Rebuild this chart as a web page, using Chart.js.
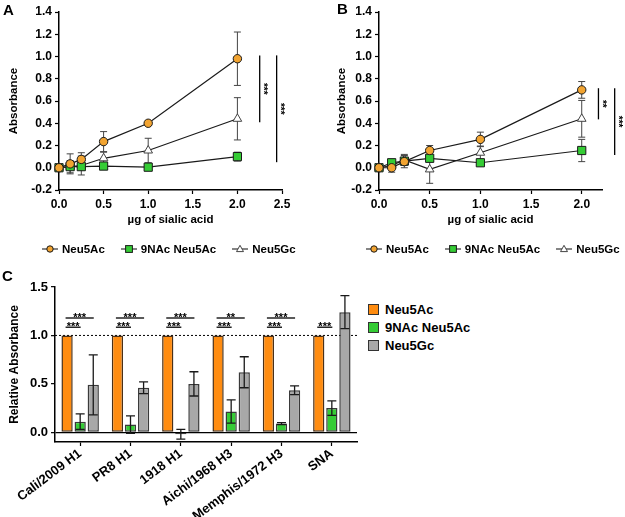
<!DOCTYPE html>
<html lang="en">
<head>
<meta charset="UTF-8">
<title>Sialic acid binding</title>
<script src="https://cdn.jsdelivr.net/npm/chart.js"></script>
<style>
    body { margin: 0; background: #fff; font-family: 'Liberation Sans', Arial, sans-serif; color: #000; }
    #page { position: relative; width: 625px; height: 517px; overflow: hidden; }
    canvas { position: absolute; }
    .letter { position: absolute; font-size: 15px; font-weight: bold; line-height: 15px; }
    .legend { position: absolute; display: flex; align-items: center; font-size: 11.5px; font-weight: bold; line-height: 14px; white-space: nowrap; }
    .legend .item { display: flex; align-items: center; margin-right: 16px; }
    .legend svg { margin-right: 4px; }
    .boxlegend { position: absolute; left: 368px; top: 300px; font-size: 13px; font-weight: bold; white-space: nowrap; }
    .boxlegend .item { display: flex; align-items: center; height: 18.3px; }
    .boxlegend .sw { width: 9px; height: 9px; border: 1.5px solid #333; margin-right: 6px; }
</style>
</head>
<body>
<div id="page">
    <canvas id="chartA" width="300" height="235" style="left:0;top:0"></canvas>
    <canvas id="chartB" width="297" height="235" style="left:328px;top:0"></canvas>
    <canvas id="chartC" width="367" height="262" style="left:0;top:255px"></canvas>

    <div class="letter" style="left:3px;top:2px">A</div>
    <div class="letter" style="left:337px;top:1px">B</div>
    <div class="letter" style="left:2px;top:268px">C</div>

    <div class="legend" id="legendA" style="left:42px;top:242px"></div>
    <div class="legend" id="legendB" style="left:366px;top:242px"></div>
    <div class="boxlegend" id="legendC"></div>
</div>

<script>
    const FONT = "'Liberation Sans', Arial, sans-serif";

    // dose of sialic acid (µg), shared by panels A and B
    const doses = [0, 0.125, 0.25, 0.5, 1.0, 2.0];

    // panel A
    const aNeu5Ac = [0, 0.035, 0.075, 0.235, 0.40, 0.98];
    const aNeu5AcErr = [0, 0.09, 0.06, 0.09, 0, 0.24];
    const a9NAc = [0, 0.01, 0.01, 0.015, 0.005, 0.10];
    const a9NAcErr = [0, 0.01, 0.01, 0.01, 0.01, 0.04];
    const aNeu5Gc = [0, 0.01, 0.02, 0.085, 0.155, 0.44];
    const aNeu5GcErr = [0, 0.055, 0.085, 0.055, 0.11, 0.19];
    const aSigX = [2.25, 2.44];
    const aSigTop = [1.01, 1.01];
    const aSigBottom = [0.41, 0.05];
    const aSigLabel = ['***', '***'];

    // panel B
    const bNeu5Ac = [0, 0.0, 0.055, 0.155, 0.255, 0.70];
    const bNeu5AcErr = [0, 0.04, 0.055, 0.045, 0.065, 0.075];
    const b9NAc = [0, 0.045, 0.06, 0.085, 0.045, 0.155];
    const b9NAcErr = [0, 0.01, 0.01, 0.03, 0.01, 0.10];
    const bNeu5Gc = [0, 0.02, 0.07, -0.015, 0.135, 0.44];
    const bNeu5GcErr = [0, 0.02, 0.05, 0.125, 0.06, 0.165];
    const bSigX = [2.165, 2.325];
    const bSigTop = [0.715, 0.715];
    const bSigBottom = [0.435, 0.115];
    const bSigLabel = ['**', '***'];

    // panel C
    const strains = ['Cali/2009 H1', 'PR8 H1', '1918 H1', 'Aichi/1968 H3', 'Memphis/1972 H3', 'SNA'];
    const relNeu5Ac = [1, 1, 1, 1, 1, 1];
    const rel9NAc = [0.11, 0.08, -0.02, 0.215, 0.09, 0.25];
    const rel9NAcErr = [0.08, 0.09, 0.05, 0.12, 0.01, 0.075];
    const relNeu5Gc = [0.49, 0.46, 0.50, 0.62, 0.435, 1.24];
    const relNeu5GcErr = [0.31, 0.06, 0.125, 0.16, 0.045, 0.17];
    const sigGreen = ['***', '***', '***', '***', '***', '***'];
    const sigGray = ['***', '***', '***', '**', '***', null];
    const sigGreenLevel = 1.085;
    const sigGrayLevel = 1.18;
    const refLevel = 1.0;

    const seriesNames = ['Neu5Ac', '9NAc Neu5Ac', 'Neu5Gc'];
    const orangeMark = '#f2a431';
    const orangeBar = '#ff8c10';
    const green = '#35cc35';
    const gray = '#a8a8a8';

    Chart.defaults.font.family = FONT;
    Chart.defaults.color = '#000';

    function drawErrorBars(chart, opts) {
        const {ctx} = chart;
        const y = chart.scales.y;
        ctx.save();
        ctx.strokeStyle = opts.color;
        ctx.lineWidth = opts.width;
        chart.data.datasets.forEach((ds, di) => {
            if (!ds.errors) return;
            const meta = chart.getDatasetMeta(di);
            meta.data.forEach((el, i) => {
                const e = ds.errors[i];
                if (!e) return;
                const v = typeof ds.data[i] === 'object' ? ds.data[i].y : ds.data[i];
                const top = y.getPixelForValue(v + e);
                const bot = y.getPixelForValue(v - e);
                const x = el.x;
                ctx.beginPath();
                ctx.moveTo(x, top); ctx.lineTo(x, bot);
                ctx.moveTo(x - opts.cap, top); ctx.lineTo(x + opts.cap, top);
                ctx.moveTo(x - opts.cap, bot); ctx.lineTo(x + opts.cap, bot);
                ctx.stroke();
            });
        });
        ctx.restore();
    }

    const errorBarPlugin = {
        id: 'errBars',
        beforeDatasetsDraw(chart, args, opts) { if (!opts.onTop) drawErrorBars(chart, opts); },
        afterDatasetsDraw(chart, args, opts) { if (opts.onTop) drawErrorBars(chart, opts); }
    };

    // vertical significance brackets to the right of panels A and B
    const vSigPlugin = {
        id: 'vSig',
        afterDraw(chart, args, opts) {
            const {ctx} = chart;
            const {x, y} = chart.scales;
            ctx.save();
            ctx.strokeStyle = '#000';
            ctx.fillStyle = '#000';
            ctx.lineWidth = 1.3;
            ctx.font = 'bold 10px ' + FONT;
            ctx.textAlign = 'center';
            ctx.textBaseline = 'middle';
            opts.xs.forEach((xv, i) => {
                const px = x.getPixelForValue(xv);
                const y1 = y.getPixelForValue(opts.tops[i]);
                const y2 = y.getPixelForValue(opts.bottoms[i]);
                ctx.beginPath();
                ctx.moveTo(px, y1); ctx.lineTo(px, y2);
                ctx.stroke();
                ctx.save();
                ctx.translate(px + 3.5, (y1 + y2) / 2);
                ctx.rotate(Math.PI / 2);
                ctx.fillText(opts.labels[i], 0, 0);
                ctx.restore();
            });
            ctx.restore();
        }
    };

    function lineSeries(label, ys, errs, pointStyle, fill, radius, edge) {
        return {
            label,
            data: doses.map((d, i) => ({x: d, y: ys[i]})),
            errors: errs,
            borderColor: '#1a1a1a',
            borderWidth: 1.2,
            pointStyle,
            pointRadius: radius,
            pointBackgroundColor: fill,
            pointBorderColor: edge,
            pointBorderWidth: 1,
            clip: false,
            tension: 0
        };
    }

    function tickLabel(v) {
        return Math.abs(v) < 1e-9 ? '0.0' : Number(v).toFixed(1);
    }

    function makeLineChart(id, xMax, sets, sig) {
        return new Chart(document.getElementById(id), {
            type: 'line',
            data: {datasets: sets},
            options: {
                responsive: false,
                animation: false,
                layout: {padding: {top: 12, right: id === 'chartA' ? 18 : 23, left: 0, bottom: 0}},
                plugins: {
                    legend: {display: false},
                    tooltip: {enabled: false},
                    errBars: {color: '#444', width: 1, cap: 3.5, onTop: false},
                    vSig: sig
                },
                scales: {
                    x: {
                        type: 'linear',
                        min: 0,
                        max: xMax,
                        ticks: {stepSize: 0.5, includeBounds: false, padding: 3, color: '#000',
                                font: {size: 12, weight: 'bold'}, callback: tickLabel},
                        grid: {drawOnChartArea: false, tickLength: 4, tickColor: '#000', tickWidth: 1.2},
                        border: {color: '#000', width: 1.5},
                        title: {display: true, text: 'µg of sialic acid', color: '#000',
                                font: {size: 11.5, weight: 'bold'}, padding: {top: 0, bottom: 8}},
                        afterFit(s) { s.height = 45; }
                    },
                    y: {
                        min: -0.2,
                        max: 1.4,
                        ticks: {stepSize: 0.2, padding: 3, color: '#000',
                                font: {size: 12, weight: 'bold'}, callback: tickLabel},
                        grid: {drawOnChartArea: false, tickLength: 4, tickColor: '#000', tickWidth: 1.2},
                        border: {color: '#000', width: 1.5},
                        title: {display: true, text: 'Absorbance', color: '#000',
                                font: {size: 11.5, weight: 'bold'}, padding: {top: 7, bottom: 0}},
                        afterFit(s) { s.width = id === 'chartA' ? 59 : 51; }
                    }
                }
            },
            plugins: [errorBarPlugin, vSigPlugin]
        });
    }

    makeLineChart('chartA', 2.5, [
        lineSeries(seriesNames[0], aNeu5Ac, aNeu5AcErr, 'circle', orangeMark, 4.2, '#1a1a1a'),
        lineSeries(seriesNames[1], a9NAc, a9NAcErr, 'rect', green, 5.8, '#1a1a1a'),
        lineSeries(seriesNames[2], aNeu5Gc, aNeu5GcErr, 'triangle', '#fff', 5, '#444')
    ], {xs: aSigX, tops: aSigTop, bottoms: aSigBottom, labels: aSigLabel});

    makeLineChart('chartB', 2.2, [
        lineSeries(seriesNames[0], bNeu5Ac, bNeu5AcErr, 'circle', orangeMark, 4.2, '#1a1a1a'),
        lineSeries(seriesNames[1], b9NAc, b9NAcErr, 'rect', green, 5.8, '#1a1a1a'),
        lineSeries(seriesNames[2], bNeu5Gc, bNeu5GcErr, 'triangle', '#fff', 5, '#444')
    ], {xs: bSigX, tops: bSigTop, bottoms: bSigBottom, labels: bSigLabel});

    // dotted reference line at 1.0 in panel C
    const refLinePlugin = {
        id: 'refLine',
        beforeDatasetsDraw(chart) {
            const {ctx, chartArea} = chart;
            const py = chart.scales.y.getPixelForValue(refLevel);
            ctx.save();
            ctx.strokeStyle = '#000';
            ctx.lineWidth = 1;
            ctx.setLineDash([2, 2]);
            ctx.beginPath();
            ctx.moveTo(chartArea.left, py);
            ctx.lineTo(chartArea.right, py);
            ctx.stroke();
            ctx.restore();
        }
    };

    // horizontal significance lines above each group
    const barSigPlugin = {
        id: 'barSig',
        afterDatasetsDraw(chart) {
            const {ctx} = chart;
            const y = chart.scales.y;
            const m0 = chart.getDatasetMeta(0);
            ctx.save();
            ctx.strokeStyle = '#000';
            ctx.fillStyle = '#000';
            ctx.lineWidth = 1.3;
            ctx.font = 'bold 11px ' + FONT;
            ctx.textAlign = 'center';
            ctx.textBaseline = 'alphabetic';
            const pair = (labels, meta, level) => labels.forEach((lab, i) => {
                if (!lab) return;
                const x1 = m0.data[i].x - 1.5;
                const x2 = meta.data[i].x + 0.5;
                const py = y.getPixelForValue(level);
                ctx.beginPath();
                ctx.moveTo(x1, py); ctx.lineTo(x2, py);
                ctx.stroke();
                ctx.fillText(lab, (x1 + x2) / 2, py + 3);
            });
            pair(sigGreen, chart.getDatasetMeta(1), sigGreenLevel);
            pair(sigGray, chart.getDatasetMeta(2), sigGrayLevel);
            ctx.restore();
        }
    };

    const barStyle = {borderColor: '#3a3a3a', borderWidth: 1.5, borderSkipped: false,
                      barPercentage: 0.86, categoryPercentage: 0.78};

    new Chart(document.getElementById('chartC'), {
        type: 'bar',
        data: {
            labels: strains,
            datasets: [
                Object.assign({label: seriesNames[0], data: relNeu5Ac, backgroundColor: orangeBar}, barStyle, {borderColor: '#4a3018'}),
                Object.assign({label: seriesNames[1], data: rel9NAc, errors: rel9NAcErr, backgroundColor: green}, barStyle),
                Object.assign({label: seriesNames[2], data: relNeu5Gc, errors: relNeu5GcErr, backgroundColor: gray}, barStyle)
            ]
        },
        options: {
            responsive: false,
            animation: false,
            layout: {padding: {top: 32, right: 10, left: 0, bottom: 0}},
            plugins: {
                legend: {display: false},
                tooltip: {enabled: false},
                errBars: {color: '#1a1a1a', width: 1.3, cap: 4.5, onTop: true}
            },
            scales: {
                x: {
                    offset: true,
                    ticks: {autoSkip: false, minRotation: 37, maxRotation: 37, padding: 0, color: '#000',
                            font: {size: 13, weight: 'bold'}},
                    grid: {offset: false, drawOnChartArea: false, tickLength: 4, tickColor: '#000', tickWidth: 1.2},
                    border: {color: '#000', width: 1.5},
                    afterFit(s) { s.height = 75; }
                },
                y: {
                    min: -0.1,
                    max: 1.5,
                    ticks: {stepSize: 0.5, includeBounds: false, padding: 3, color: '#000',
                            font: {size: 13, weight: 'bold'}, callback: tickLabel},
                    grid: {
                        drawOnChartArea: true,
                        color: c => (c.tick && Math.abs(c.tick.value) < 1e-9) ? '#000' : 'rgba(0,0,0,0)',
                        lineWidth: 1.3,
                        tickLength: 4, tickColor: '#000', tickWidth: 1.2
                    },
                    border: {color: '#000', width: 1.5},
                    title: {display: true, text: 'Relative Absorbance', color: '#000',
                            font: {size: 12, weight: 'bold'}, padding: {top: 7, bottom: 0}},
                    afterFit(s) { s.width = 55; }
                }
            }
        },
        plugins: [refLinePlugin, errorBarPlugin, barSigPlugin]
    });

    // legends for A and B: line with marker, as in the plots
    const markerSvg = [
        '<circle cx="8" cy="7" r="3.2" fill="' + orangeMark + '" stroke="#1a1a1a" stroke-width="1"/>',
        '<rect x="4.6" y="3.6" width="6.8" height="6.8" fill="' + green + '" stroke="#1a1a1a" stroke-width="1"/>',
        '<polygon points="8,3.3 11.5,9.6 4.5,9.6" fill="#fff" stroke="#444" stroke-width="1"/>'
    ];
    ['legendA', 'legendB'].forEach(id => {
        const box = document.getElementById(id);
        seriesNames.forEach((name, i) => {
            const item = document.createElement('div');
            item.className = 'item';
            item.innerHTML = '<svg width="16" height="14"><line x1="0" y1="7" x2="16" y2="7" stroke="#333" stroke-width="1.2"/>'
                + markerSvg[i] + '</svg><span>' + name + '</span>';
            box.appendChild(item);
        });
    });

    const swatch = [orangeBar, green, gray];
    const legC = document.getElementById('legendC');
    seriesNames.forEach((name, i) => {
        const item = document.createElement('div');
        item.className = 'item';
        item.innerHTML = '<div class="sw" style="background:' + swatch[i] + '"></div><span>' + name + '</span>';
        legC.appendChild(item);
    });
</script>
</body>
</html>
